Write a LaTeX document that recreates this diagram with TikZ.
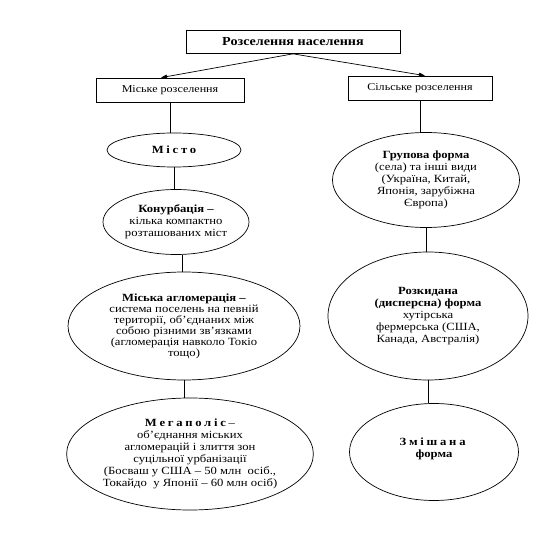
\documentclass[tikz,border=0pt]{standalone}
\usepackage{fontspec}
\setmainfont{Liberation Serif}[FakeStretch=1.15]
\usetikzlibrary{shapes.geometric,positioning,arrows.meta}

\newcommand{\spaced}[1]{{\addfontfeatures{LetterSpace=25}#1}}

\begin{document}
\begin{tikzpicture}[x=1pt,y=-1pt,node distance=60pt,on grid,
    topbox/.style={draw,line width=0.7pt,minimum width=214pt,minimum height=23pt,font=\fontsize{12.3}{13}\selectfont\bfseries},
    kindbox/.style={draw,line width=0.7pt,minimum height=24pt,font=\fontsize{10.5}{12}\selectfont},
    form/.style={ellipse,draw,line width=0.7pt,inner sep=0pt,align=center,font=\fontsize{11}{12}\selectfont},
    link/.style={line width=0.7pt}]
    \useasboundingbox (0,0) rectangle (542,535);

    \node[topbox] (rozs) at (293,42) {Розселення населення};
    \node[kindbox,minimum width=148pt] (misk) [below left=48pt and 123pt of rozs] {Міське розселення};
    \node[kindbox,minimum width=144pt] (silsk) [below right=46pt and 127pt of rozs] {Сільське розселення};

    % misto side
    \node[form,minimum width=134pt,minimum height=34pt] (misto) [below=60pt of misk,xshift=4pt] {\bfseries\spaced{Місто}};
    \node[form,minimum width=146pt,minimum height=65pt] (konurb) [below=72pt of misto,xshift=2pt]
        {\textbf{Конурбація –}\\кілька компактно\\розташованих міст};
    \node[form,minimum width=232pt,minimum height=108pt,font=\fontsize{11}{11}\selectfont] (aglo) [below=104pt of konurb,xshift=8pt]
        {\textbf{Міська агломерація –}\\система поселень на певній\\території, об'єднаних між\\собою різними зв'язками\\(агломерація навколо Токіо\\тощо)};
    \node[form,minimum width=226pt,minimum height=112pt] (mega) [below=128pt of aglo,xshift=6pt]
        {\textbf{\spaced{Мегаполіс}}–\\об'єднання міських\\агломерацій і злиття зон\\суцільної урбанізації\\(Босваш у США – 50 млн\ \ осіб.,\\Токайдо\ \ у Японії – 60 млн осіб)};

    % selo side
    \node[form,minimum width=187pt,minimum height=95pt] (grup) [below=92pt of silsk,xshift=6pt]
        {\textbf{Групова форма}\\(села) та інші види\\(Україна, Китай,\\Японія, зарубіжна\\Європа)};
    \node[form,minimum width=200pt,minimum height=128pt] (rozk) [below=136pt of grup,xshift=2pt]
        {\textbf{Розкидана}\\\textbf{(дисперсна) форма}\\хутірська\\фермерська (США,\\Канада, Австралія)};
    \node[form,minimum width=169pt,minimum height=97pt] (zmish) [below=136pt of rozk,xshift=6pt]
        {\textbf{\spaced{Змішана}}\\\textbf{форма}\\[-4pt]\mbox{}};

    \draw[link,-{Triangle[length=6pt,width=4pt]}] (rozs.south) -- ([xshift=-9pt]misk.north);
    \draw[link,-{Triangle[length=6pt,width=4pt]}] (rozs.south) -- ([xshift=5pt]silsk.north);

    \draw[link] (misk.south) -- (misk.south |- misto.north)
                (misto.south) -- (misto.south |- konurb.north)
                ([xshift=6pt]konurb.south) -- ([xshift=6pt]konurb.south |- aglo.north)
                (aglo.south) -- (aglo.south |- mega.north);
    \draw[link] (silsk.south) -- (silsk.south |- grup.north)
                (grup.south) -- (grup.south |- rozk.north)
                (rozk.south) -- (rozk.south |- zmish.north);
\end{tikzpicture}
\end{document}
